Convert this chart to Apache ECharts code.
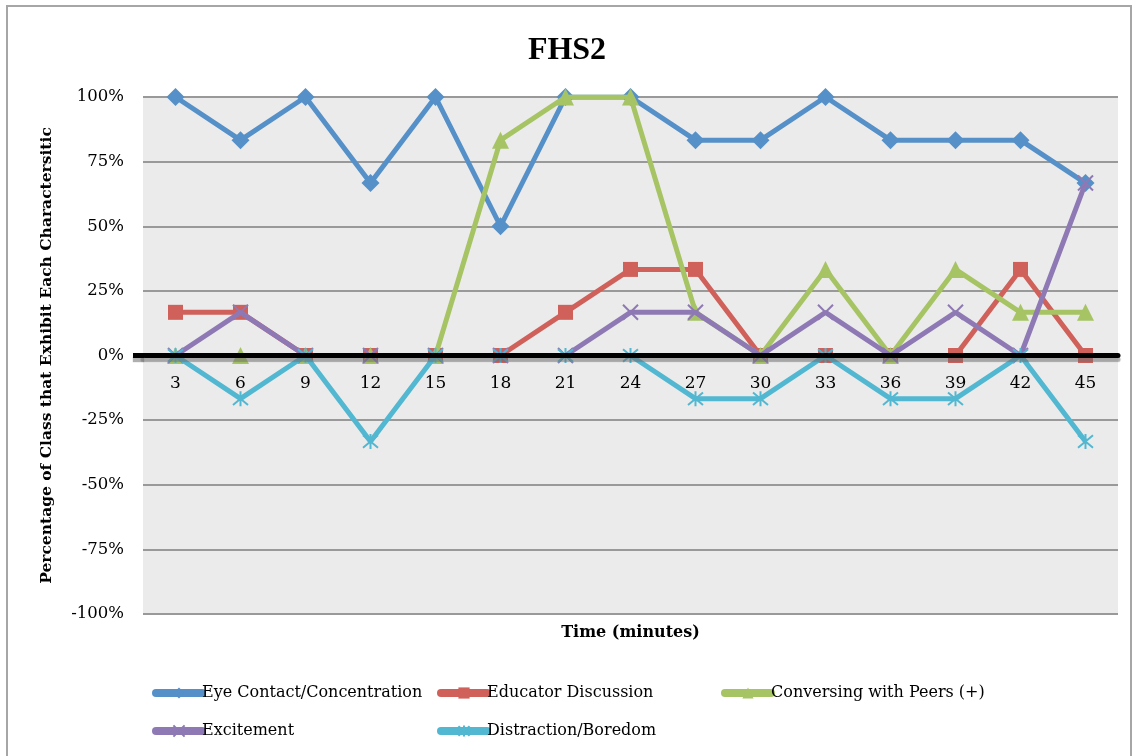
<!DOCTYPE html>
<html>
<head>
<meta charset="utf-8">
<script src="https://cdn.jsdelivr.net/npm/echarts@6/dist/echarts.min.js"></script>
<style>
  html, body { margin: 0; padding: 0; background: #fff; }
  #chart { width: 1134px; height: 756px; }
</style>
</head>
<body>
<div id="chart"></div>
<script>
// Minutes into the lesson
const minutes = ['3', '6', '9', '12', '15', '18', '21', '24', '27', '30', '33', '36', '39', '42', '45'];

// Share of the class showing each characteristic (%)
const eyeContact   = [100, 83.3, 100, 66.7, 100, 50, 100, 100, 83.3, 83.3, 100, 83.3, 83.3, 83.3, 66.7];
const educator     = [16.7, 16.7, 0, 0, 0, 0, 16.7, 33.3, 33.3, 0, 0, 0, 0, 33.3, 0];
const conversing   = [0, 0, 0, 0, 0, 83.3, 100, 100, 16.7, 0, 33.3, 0, 33.3, 16.7, 16.7];
const excitement   = [0, 16.7, 0, 0, 0, 0, 0, 16.7, 16.7, 0, 16.7, 0, 16.7, 0, 66.7];
const distraction  = [0, -16.7, 0, -33.3, 0, 0, 0, 0, -16.7, -16.7, 0, -16.7, -16.7, 0, -33.3];

const seriesNames = [
  'Eye Contact/Concentration',
  'Educator Discussion',
  'Conversing with Peers (+)',
  'Excitement',
  'Distraction/Boredom'
];

const FONT = '"DejaVu Serif", "Liberation Serif", serif';
const colors = ['#5590c8', '#d0605a', '#a6c464', '#8e79b4', '#52b7d1'];

const crossPath = 'path://M0,0L10,10M10,0L0,10';
const starPath = 'path://M0,0L10,10M10,0L0,10M5,-1L5,11';

function lineSeries(i, data, symbol, size, stroked) {
  return {
    name: seriesNames[i],
    type: 'line',
    data: data,
    symbol: symbol,
    symbolSize: size,
    showAllSymbol: true,
    lineStyle: { width: 5, color: colors[i] },
    itemStyle: stroked
      ? { color: 'rgba(0,0,0,0)', borderColor: colors[i], borderWidth: 2 }
      : { color: colors[i], borderWidth: 0 },
    emphasis: { disabled: true },
    z: 2 + i
  };
}

function legendAt(i, left, top) {
  return {
    data: [seriesNames[i]],
    left: left,
    top: top,
    itemWidth: 46,
    itemHeight: 14,
    itemGap: 0,
    padding: 0,
    selectedMode: false,
    lineStyle: { width: 8, cap: 'round' },
    textStyle: { fontFamily: FONT, fontSize: 16, color: '#000', padding: [0, 0, 0, -5] }
  };
}

const borderRect = {
  type: 'rect',
  shape: { x: 7, y: 6, width: 1124, height: 780 },
  style: { fill: 'none', stroke: '#a6a6a6', lineWidth: 2 },
  silent: true
};

const zeroLineStyle = {
  color: '#000', width: 5,
  shadowColor: 'rgba(110,110,110,0.55)', shadowOffsetY: 4, shadowBlur: 1
};

const chart = echarts.init(document.getElementById('chart'));
chart.setOption({
  animation: false,
  backgroundColor: '#fff',
  title: {
    text: 'FHS2',
    left: 'center',
    top: 30,
    textStyle: { fontFamily: '"Liberation Serif", serif', fontWeight: 'bold', fontSize: 32, color: '#000' }
  },
  legend: [
    legendAt(0, 152, 685),
    legendAt(1, 437, 685),
    legendAt(2, 721, 685),
    legendAt(3, 152, 723),
    legendAt(4, 437, 723)
  ],
  grid: {
    left: 143, right: 16, top: 97, bottom: 142,
    containLabel: false,
    outerBoundsMode: 'none',
    show: true, backgroundColor: '#ebebeb', borderWidth: 0
  },
  xAxis: {
    type: 'category',
    data: minutes,
    boundaryGap: true,
    name: 'Time (minutes)',
    nameLocation: 'middle',
    nameGap: 269,
    nameTextStyle: { fontFamily: FONT, fontWeight: 'bold', fontSize: 16, color: '#000' },
    axisLine: { onZero: false, lineStyle: zeroLineStyle },
    axisTick: { show: false },
    axisLabel: { margin: 20, fontFamily: FONT, fontSize: 17, color: '#000' },
    z: 20
  },
  yAxis: {
    type: 'value',
    min: -100,
    max: 100,
    interval: 25,
    name: 'Percentage of Class that Exhibit Each Charactersitic',
    nameLocation: 'middle',
    nameGap: 88,
    nameTextStyle: { fontFamily: FONT, fontWeight: 'bold', fontSize: 15.5, color: '#000' },
    axisLine: { show: false },
    axisTick: { show: false },
    axisLabel: { margin: 19, fontFamily: FONT, fontSize: 16.5, color: '#000', formatter: '{value}%' },
    splitLine: { lineStyle: { color: '#999', width: 2 } }
  },
  series: [
    lineSeries(0, eyeContact, 'diamond', 18, false),
    lineSeries(1, educator, 'rect', 15, false),
    lineSeries(2, conversing, 'triangle', 17, false),
    lineSeries(3, excitement, crossPath, 15, true),
    lineSeries(4, distraction, starPath, 15, true)
  ],
  graphic: [borderRect]
});

// Lift the category axis (line, labels and name) up to the 0% level,
// and carry the heavy zero line a little past the left edge of the plot
const rect = chart.getModel().getComponent('grid').coordinateSystem.getRect();
const zeroY = chart.convertToPixel({ yAxisIndex: 0 }, 0);
chart.setOption({
  xAxis: { offset: zeroY - (rect.y + rect.height) },
  graphic: [
    borderRect,
    {
      type: 'line',
      shape: { x1: rect.x - 10, y1: zeroY, x2: rect.x + 1, y2: zeroY },
      style: { stroke: '#000', lineWidth: 5, shadowColor: 'rgba(110,110,110,0.55)', shadowOffsetY: 4, shadowBlur: 1 },
      z: 100,
      silent: true
    }
  ]
});
</script>
</body>
</html>
